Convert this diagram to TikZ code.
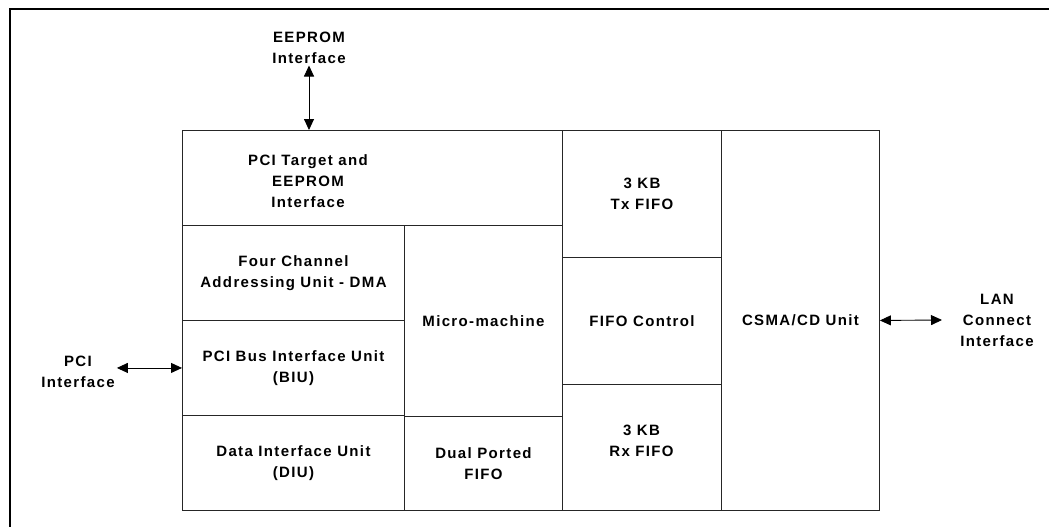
\documentclass[tikz,border=0pt]{standalone}
\usepackage{fontspec}
\setmainfont{Liberation Sans}[LetterSpace=9]
\usetikzlibrary{arrows.meta}
\begin{document}
\begin{tikzpicture}[x=1pt,y=-1pt,
  cell/.style={draw=black!85,line width=0.9pt,inner sep=0pt,anchor=north west,
    font=\fontsize{15}{21}\selectfont\bfseries,align=center},
  lbl/.style={font=\fontsize{15}{21}\selectfont\bfseries,align=center,inner sep=2pt},
  link/.style={line width=0.9pt,{Triangle[length=11pt,width=10pt]}-{Triangle[length=11pt,width=10pt]}}]
\useasboundingbox (0,0) rectangle (1049,527);
% outer frame (top and left edges)
\draw[line width=2pt] (9.5,527) -- (9.5,9.5) -- (1049,9.5);
% cells
\node[cell,minimum width=380pt,minimum height=95pt] (tgt) at (182,130) {};
\node[lbl,inner sep=0pt] (tgtL) at (308,181) {PCI Target and\\EEPROM\\Interface};
\node[cell,minimum width=222pt,minimum height=95pt] (dma) at (182,225) {Four Channel\\Addressing Unit - DMA};
\node[cell,minimum width=222pt,minimum height=95pt] (biu) at (182,320) {PCI Bus Interface Unit\\(BIU)};
\node[cell,minimum width=222pt,minimum height=95pt] (diu) at (182,415) {Data Interface Unit\\(DIU)};
\node[cell,minimum width=158pt,minimum height=191pt] (mm) at (404,225) {Micro-machine};
\node[cell,minimum width=158pt,minimum height=94pt] (dp) at (404,416) {Dual Ported\\FIFO};
\node[cell,minimum width=159pt,minimum height=127pt] (tx) at (562,130) {3 KB\\Tx FIFO};
\node[cell,minimum width=159pt,minimum height=127pt] (fc) at (562,257) {FIFO Control};
\node[cell,minimum width=159pt,minimum height=126pt] (rx) at (562,384) {};
\node[lbl,inner sep=0pt] (rxL) at (641.5,441) {3 KB\\Rx FIFO};
\node[cell,minimum width=158pt,minimum height=380pt] (csma) at (721,130) {CSMA/CD Unit};
% external labels
\node[lbl] (eeL) at (309,47.5) {EEPROM\\Interface};
\node[lbl] (pciL) at (78,372) {PCI\\Interface};
\node[lbl] (lanL) at (997,320) {LAN\\Connect\\Interface};
\coordinate (lanEnd) at (942,320);
% connectors
\draw[link] (eeL.south) -- (eeL.south |- tgt.north);
\draw[link] (pciL.east |- biu.west) -- (biu.west);
\draw[link] (csma.east) -- (lanEnd);
\end{tikzpicture}
\end{document}
